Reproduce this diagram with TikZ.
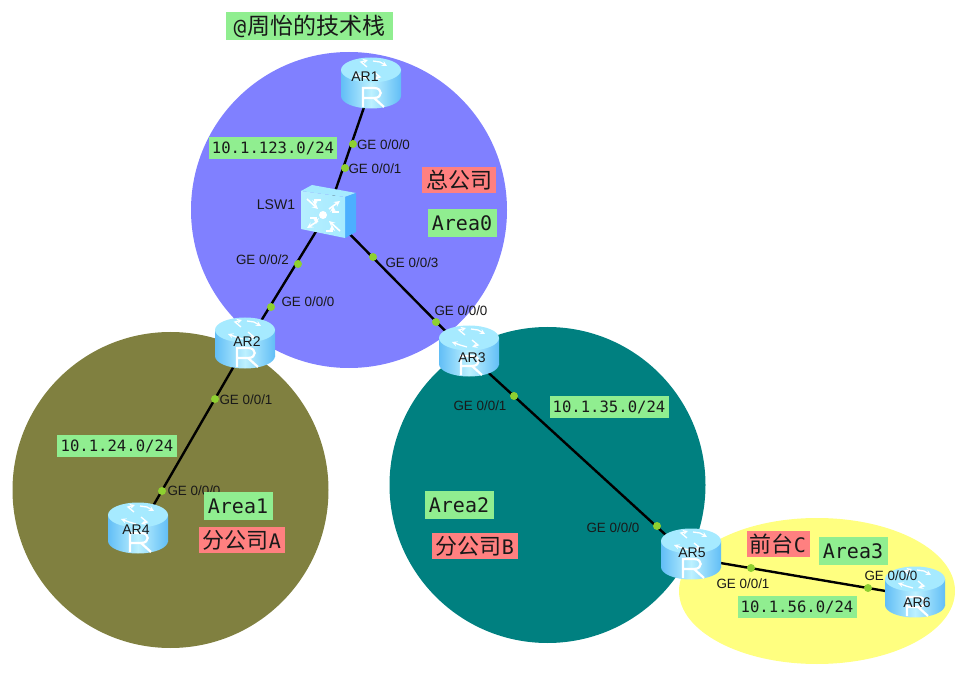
\documentclass[tikz,border=0pt]{standalone}
\usepackage{fontspec}
\setmainfont{Liberation Sans}
\newfontfamily\monofont{DejaVu Sans Mono}
\newfontfamily\cjk{Noto Sans CJK SC}

\definecolor{areablue}{HTML}{8080FF}
\definecolor{areaolive}{HTML}{808040}
\definecolor{areateal}{HTML}{008080}
\definecolor{areayellow}{HTML}{FFFF80}
\definecolor{tagreen}{HTML}{90EE90}
\definecolor{tagred}{HTML}{FF8080}
\definecolor{portgreen}{HTML}{8ED030}
\definecolor{bodyedge}{HTML}{62BEF6}
\definecolor{bodymid}{HTML}{BDF1FF}
\definecolor{topface}{HTML}{A6EAFF}

\tikzset{
  device/.style={inner sep=0pt,minimum width=60pt,minimum height=52pt},
  devname/.style={inner sep=0pt,font=\fontsize{14}{16}\selectfont,text=black!90},
  portname/.style={inner sep=0pt,font=\fontsize{13.4}{15}\selectfont,text=black!90},
  portdot/.style={circle,fill=portgreen,inner sep=0pt,minimum size=8pt},
  link/.style={line width=2.4pt,black},
  tagbox/.style={inner sep=0pt,text=black!90},
  subnet/.style={tagbox,fill=tagreen,minimum height=22pt,font=\monofont\fontsize{15.6}{18}\selectfont},
  areatag/.style={tagbox,fill=tagreen,minimum width=69pt,minimum height=28pt,font=\monofont\fontsize{20}{22}\selectfont},
  sitetag/.style={tagbox,fill=tagred,minimum height=26pt,font=\monofont\fontsize{20}{22}\selectfont},
  pics/routericon/.style={code={
    \shade[left color=bodyedge,right color=bodyedge,middle color=bodymid] (0,9) ellipse [x radius=30,y radius=12.5];
    \shade[left color=bodyedge,right color=bodyedge,middle color=bodymid] (-30,-17) rectangle (30,9);
    \fill[topface] (0,-17) ellipse [x radius=30,y radius=12.5];
    \draw[white,line width=1.3pt,-stealth] (-4,-20) -- (-10,-25) -- (-3,-27);
    \draw[white,line width=1.3pt,-stealth] (2,-26) -- (9,-25) -- (16,-21);
    \draw[white,line width=1.3pt,-stealth] (-2,-8) -- (-9,-10) -- (-17,-13);
    \draw[white,line width=1.3pt,-stealth] (3,-15) -- (9,-10) -- (3,-8);
    \draw[white,line width=2.2pt] (-8,20) -- (-8,1) -- (3,1) .. controls (12,1) and (12,11) .. (3,11) -- (-8,11);
    \draw[white,line width=2.2pt] (3,11) -- (13,20);
  }},
  pics/switchicon/.style={code={
    \fill[topface] (-27,-21) -- (-16,-27) -- (28,-19) -- (17,-15) -- cycle;
    \fill[blue!45!cyan!70] (17,-15) -- (28,-19) -- (28,20) -- (17,26) -- cycle;
    \shade[left color=bodymid!70!topface,right color=topface] (-27,-21) -- (17,-15) -- (17,26) -- (-27,17) -- cycle;
    \fill[white] (-5,3) circle (4);
    \draw[white,line width=1.6pt,-stealth] (-21,-13) -- (-10,-3);
    \draw[white,line width=1.6pt,-stealth] (1,-3) -- (12,-11);
    \draw[white,line width=1.6pt,-stealth] (-10,9) -- (-21,16);
    \draw[white,line width=1.6pt,-stealth] (12,19) -- (1,9);
    \draw[white,line width=1.6pt,-stealth] (-7,-12) -- (-13,-12) -- (-13,-6);
    \draw[white,line width=1.6pt,-stealth] (11,0) -- (5,0) -- (5,-6);
    \draw[white,line width=1.6pt,-stealth] (-18,6) -- (-12,6) -- (-12,12);
    \draw[white,line width=1.6pt,-stealth] (-2,19) -- (4,19) -- (4,13);
  }}
}

\begin{document}
\begin{tikzpicture}[x=1pt,y=-1pt]
\useasboundingbox (0,0) rectangle (978,679);

% areas
\fill[areayellow] (817,591) ellipse [x radius=138,y radius=73];
\fill[areablue] (349,210) circle (158);
\fill[areaolive] (170.5,490) circle (158);
\fill[areateal] (547.5,485) circle (158);

% devices
\node[device] (AR1) at (371,87) {};
\node[device] (LSW1) at (328,212) {};
\node[device] (AR2) at (245,347) {};
\node[device] (AR3) at (469,355) {};
\node[device] (AR4) at (138,532) {};
\node[device] (AR5) at (691,558) {};
\node[device] (AR6) at (915,596) {};

% links
\draw[link] (AR1.center) -- (LSW1.center);
\draw[link] (LSW1.center) -- (AR2.center);
\draw[link] (LSW1.center) -- (AR3.center);
\draw[link] (AR2.center) -- (AR4.center);
\draw[link] (AR3.center) -- (AR5.center);
\draw[link] (AR5.center) -- (AR6.center);

% icons
\pic at (AR1) {routericon};
\pic at (LSW1) {switchicon};
\pic at (AR2) {routericon};
\pic at (AR3) {routericon};
\pic at (AR4) {routericon};
\pic at (AR5) {routericon};
\pic at (AR6) {routericon};

% ports
\node[portdot] (dot1) at (353,144) {};
\node[portdot] (dot2) at (345,168) {};
\node[portdot] (dot3) at (298,264) {};
\node[portdot] (dot4) at (271,307) {};
\node[portdot] (dot5) at (373,257) {};
\node[portdot] (dot6) at (436,322) {};
\node[portdot] (dot7) at (215,399) {};
\node[portdot] (dot8) at (162,491) {};
\node[portdot] (dot9) at (514,396) {};
\node[portdot] (dot10) at (657,526) {};
\node[portdot] (dot11) at (751,568) {};
\node[portdot] (dot12) at (868,588) {};

\node[portname] (port1) at (383.5,145) {GE 0/0/0};
\node[portname] (port2) at (375,169) {GE 0/0/1};
\node[portname] (port3) at (262.5,260) {GE 0/0/2};
\node[portname] (port4) at (308,302) {GE 0/0/0};
\node[portname] (port5) at (412,263) {GE 0/0/3};
\node[portname] (port6) at (461,311) {GE 0/0/0};
\node[portname] (port7) at (246,400) {GE 0/0/1};
\node[portname] (port8) at (194,491) {GE 0/0/0};
\node[portname] (port9) at (480,406) {GE 0/0/1};
\node[portname] (port10) at (613,528) {GE 0/0/0};
\node[portname] (port11) at (743,584) {GE 0/0/1};
\node[portname] (port12) at (891,576) {GE 0/0/0};

% device names
\node[devname] (nameAR1) at (365,77) {AR1};
\node[devname] (nameLSW1) at (276,205) {LSW1};
\node[devname] (nameAR2) at (247,342) {AR2};
\node[devname] (nameAR3) at (472,358) {AR3};
\node[devname] (nameAR4) at (136,530) {AR4};
\node[devname] (nameAR5) at (692,553) {AR5};
\node[devname] (nameAR6) at (917,603) {AR6};

% tags
\node[tagbox,fill=tagreen,minimum width=167pt,minimum height=28pt,font=\fontsize{23}{25}\selectfont] (title) at (309.5,26) {{\monofont\fontsize{21}{25}\selectfont @}{\cjk\hspace{1pt}周怡的技术栈}\hspace{6pt}};
\node[subnet,minimum width=128pt] (net123) at (273,148) {10.1.123.0/24};
\node[subnet,minimum width=120pt] (net24) at (117,446) {10.1.24.0/24};
\node[subnet,minimum width=119pt] (net35) at (609,407) {10.1.35.0/24};
\node[subnet,minimum width=119pt] (net56) at (797,607) {10.1.56.0/24};
\node[areatag] (area0) at (462,223) {Area0};
\node[areatag] (area1) at (238,506) {Area1};
\node[areatag] (area2) at (459,505) {Area2};
\node[areatag] (area3) at (853,551) {Area3};
\node[sitetag,minimum width=74pt] (siteHQ) at (459,180) {\cjk\fontsize{22}{24}\selectfont 总公司};
\node[sitetag,minimum width=86pt] (siteA) at (242,540) {{\cjk\fontsize{22}{24}\selectfont 分公司}A};
\node[sitetag,minimum width=86pt] (siteB) at (475,546) {{\cjk\fontsize{22}{24}\selectfont 分公司}B};
\node[sitetag,minimum width=63pt] (siteC) at (778,544) {{\cjk\fontsize{22}{24}\selectfont 前台}C};
\end{tikzpicture}
\end{document}
